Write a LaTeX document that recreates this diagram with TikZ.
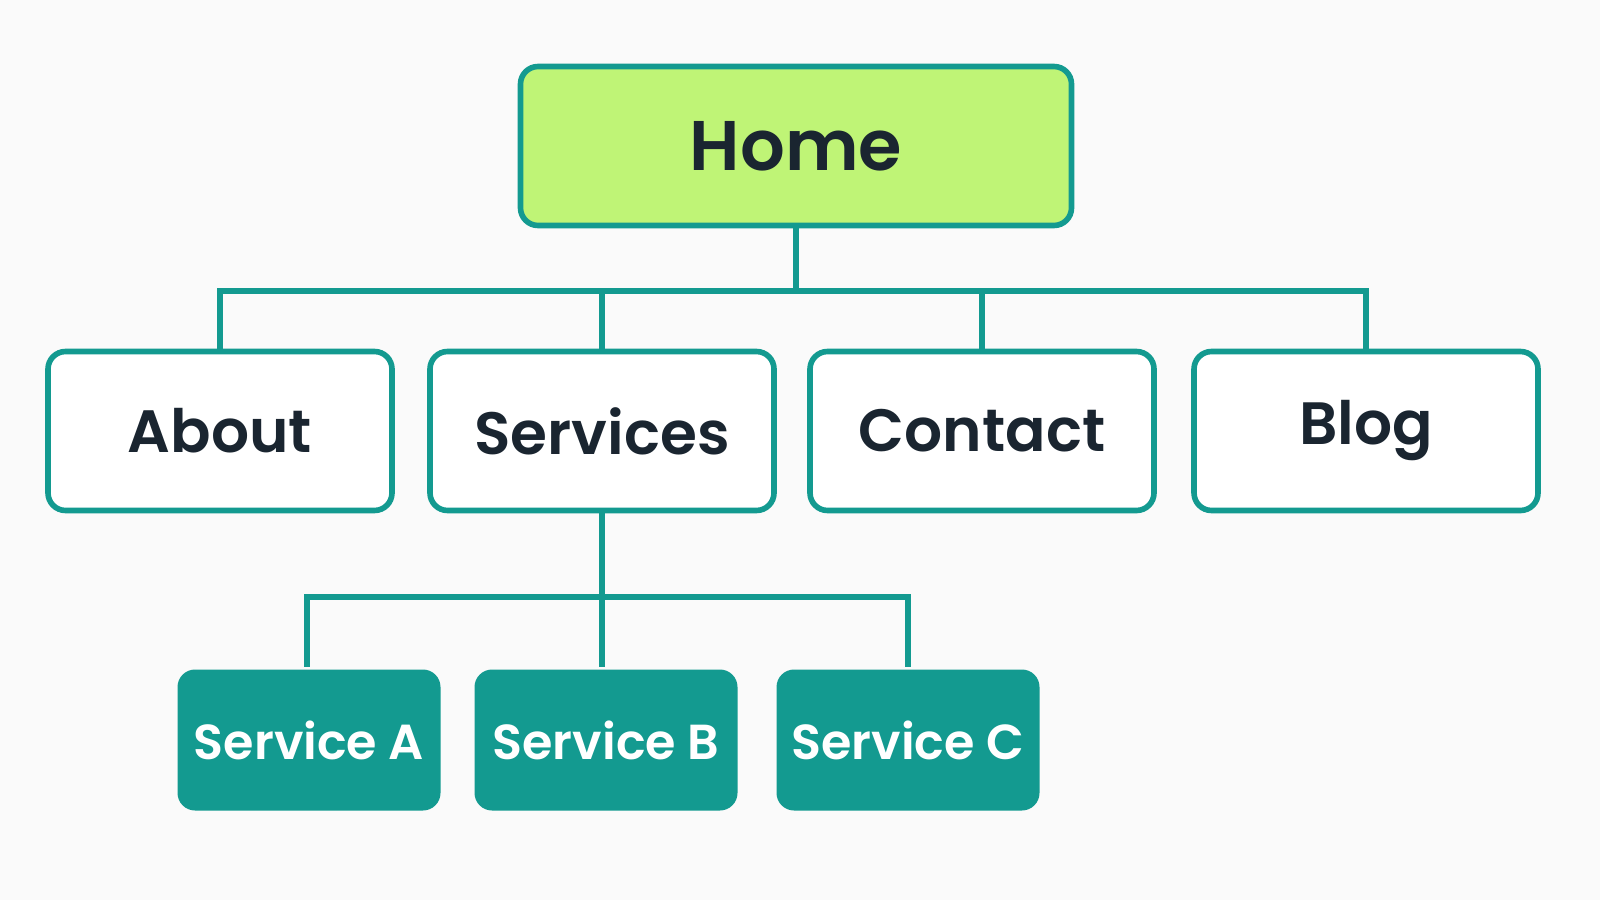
\documentclass[tikz,border=0pt]{standalone}
\usepackage{fontspec}
\setmainfont{Poppins}[BoldFont={* SemiBold}]
\definecolor{teal}{HTML}{139A90}
\definecolor{lime}{HTML}{BFF476}
\definecolor{ink}{HTML}{1A2530}
\begin{document}
\begin{tikzpicture}[x=1cm,y=1cm,
    box/.style={draw=teal,line width=1.6pt,rounded corners=5pt,inner sep=0pt,font=\bfseries\color{ink}},
    link/.style={draw=teal,line width=1.6pt}]
        \fill[white!98!black] (0,0) rectangle (16,9);
        \useasboundingbox (0,0) rectangle (16,9);

        \node[box,fill=lime,minimum width=5.51cm,minimum height=1.59cm,font=\fontsize{20}{24}\bfseries\selectfont\color{ink}] (home) at (7.96,7.54) {Home};

        \begin{scope}[every node/.style={box,fill=white,minimum width=3.44cm,minimum height=1.59cm,font=\fontsize{17}{20}\bfseries\selectfont\color{ink}}]
          \node (about)    at (2.20,4.69)  {About};
          \node (services) at (6.02,4.69)  {Services};
          \node (contact)  at (9.82,4.69)  {Contact};
          \node (blog)     at (13.66,4.69) {Blog};
        \end{scope}

        \begin{scope}[every node/.style={box,draw=none,fill=teal,minimum width=2.63cm,minimum height=1.41cm,font=\fontsize{14}{17}\bfseries\selectfont\color{white}}]
          \node (svca) at (3.09,1.60) {Service A};
          \node (svcb) at (6.06,1.60) {Service B};
          \node (svcc) at (9.08,1.60) {Service C};
        \end{scope}

        \coordinate (bus)  at (7.96,6.09);
        \coordinate (sbus) at (6.02,3.03);

        \draw[link] (home.south) -- (bus);
        \draw[link] (about.north) |- (bus) -| (blog.north);
        \draw[link] (services.north) -- (services.north |- bus);
        \draw[link] (contact.north) -- (contact.north |- bus);

        \draw[link] (services.south) -- (sbus);
        \draw[link] (svca.north -| 3.07,0) |- (sbus) -| (svcc.north);
        \draw[link] (sbus) -- (sbus |- svcb.north);
\end{tikzpicture}
\end{document}
